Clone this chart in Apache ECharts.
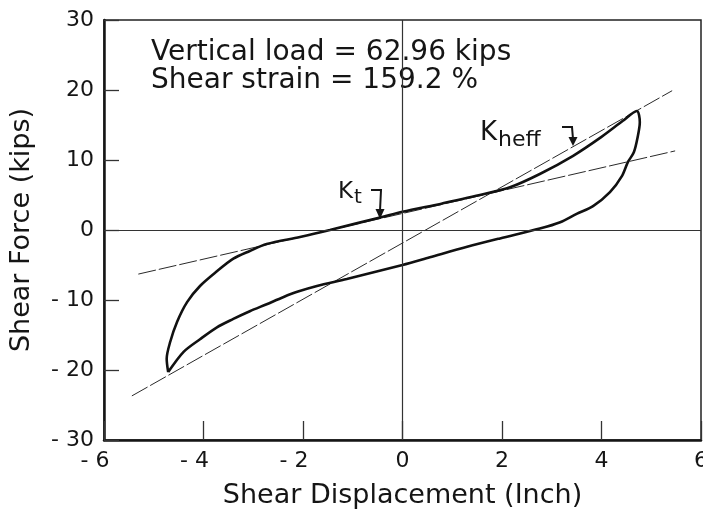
<!DOCTYPE html>
<html><head><meta charset="utf-8">
<script src="https://cdn.jsdelivr.net/npm/echarts@6/dist/echarts.min.js"></script>
<style>html,body{margin:0;padding:0;background:#fff}#c{width:703px;height:517px}</style>
</head><body><div id="c"></div>
<script>
// ---- data ----
const xTicks = [-6, -4, -2, 0, 2, 4, 6];
const yTicks = [-30, -20, -10, 0, 10, 20, 30];
// hysteresis loop, traced counter-clockwise from the lower-left tip
const loopDisp = [-4.71, -4.74, -4.67, -4.53, -4.33, -4.07, -3.73, -3.40, -3.07, -2.73, -2.06, -1.46, -0.39, 0.00, 0.80, 1.62, 2.16, 2.76, 3.43, 4.00, 4.43, 4.71,
                  4.77, 4.73, 4.65, 4.53, 4.41, 4.17, 3.83, 3.50, 3.17, 2.76, 1.96, 1.30, 0.55, 0.00, -1.12, -1.72, -2.10, -2.40, -2.73, -3.07, -3.40, -3.73, -4.07, -4.40, -4.71];
const loopForce = [-20.3, -18.4, -16.0, -13.1, -10.3, -8.0, -5.9, -4.1, -3.0, -2.0, -1.0, 0.0, 1.9, 2.6, 3.8, 5.1, 6.1, 8.0, 10.6, 13.3, 15.6, 17.0,
                   15.4, 13.4, 11.1, 9.7, 7.7, 5.4, 3.4, 2.3, 1.1, 0.2, -1.2, -2.4, -3.9, -5.0, -7.0, -8.0, -8.8, -9.6, -10.6, -11.6, -12.7, -13.9, -15.6, -17.4, -20.3];
const ktDisp = [-5.31, 5.48];
const ktForce = [-6.3, 11.3];
const kheffDisp = [-5.44, 5.42];
const kheffForce = [-23.7, 19.9];
const noteLines = ['Vertical load = 62.96 kips', 'Shear strain = 159.2 %'];
const xTitle = 'Shear Displacement (Inch)';
const yTitle = 'Shear Force (kips)';

const pairs = (xs, ys) => xs.map((x, i) => [x, ys[i]]);
const FONT = '"DejaVu Sans", sans-serif';
const INK = '#151515';

const chart = echarts.init(document.getElementById('c'), null, {renderer: 'canvas'});
const refLine = {color: '#2a2a2a', width: 1, type: [18, 3]};

chart.setOption({
  animation: false,
  backgroundColor: '#fff',
  grid: {left: 104, right: 2, top: 20, bottom: 77, outerBoundsMode: 'none', containLabel: false,
         show: true, borderColor: '#222', borderWidth: 1.5, backgroundColor: 'transparent'},
  xAxis: {
    type: 'value', min: xTicks[0], max: xTicks[xTicks.length - 1], interval: 2,
    name: xTitle, nameLocation: 'middle', nameGap: 42,
    nameTextStyle: {fontFamily: FONT, fontSize: 27, color: INK},
    axisLine: {onZero: false, lineStyle: {color: INK, width: 2.5}},
    axisTick: {inside: true, length: 19, lineStyle: {color: '#333', width: 1.3}},
    splitLine: {show: false},
    axisLabel: {
      margin: 10, fontFamily: FONT, fontSize: 22, color: INK, hideOverlap: false,
      formatter: v => v < 0 ? '{m|- }{d|' + Math.abs(v) + '}{p| }' : '{d|' + v + '}',
      rich: {
        m: {fontFamily: FONT, fontSize: 22, color: INK},
        d: {fontFamily: FONT, fontSize: 22, color: INK},
        p: {fontFamily: FONT, fontSize: 22, width: 18}
      }
    }
  },
  yAxis: {
    type: 'value', min: yTicks[0], max: yTicks[yTicks.length - 1], interval: 10,
    name: yTitle, nameLocation: 'middle', nameGap: 69, nameRotate: 90,
    nameTextStyle: {fontFamily: FONT, fontSize: 27, color: INK},
    axisLine: {onZero: false, lineStyle: {color: INK, width: 2.5}},
    axisTick: {inside: true, length: 15, lineStyle: {color: '#333', width: 1.3}},
    splitLine: {show: false},
    axisLabel: {
      margin: 10, fontFamily: FONT, fontSize: 22, color: INK, hideOverlap: false,
      formatter: v => v < 0 ? '- ' + Math.abs(v) : String(v)
    }
  },
  series: [
    {
      name: 'Kt', type: 'line', data: pairs(ktDisp, ktForce), symbol: 'none',
      lineStyle: refLine, z: 2,
      markLine: {
        silent: true, symbol: 'none', label: {show: false},
        lineStyle: {color: '#333', width: 1.2, type: 'solid'},
        data: [{xAxis: 0}, {yAxis: 0}]
      }
    },
    {name: 'Kheff', type: 'line', data: pairs(kheffDisp, kheffForce), symbol: 'none', lineStyle: refLine, z: 2},
    {
      name: 'Hysteresis loop', type: 'line', data: pairs(loopDisp, loopForce), symbol: 'none',
      smooth: 0.3, lineStyle: {color: '#111', width: 2.6}, z: 3
    }
  ],
  graphic: [
    {type: 'text', left: 151, top: 39, style: {text: noteLines[0], font: '28px ' + FONT, fill: INK}},
    {type: 'text', left: 151, top: 67, style: {text: noteLines[1], font: '28px ' + FONT, fill: INK}},
    {type: 'text', left: 338, top: 181, style: {
      text: '{k|K}{s|t}', rich: {
        k: {fontFamily: FONT, fontSize: 23, fill: INK},
        s: {fontFamily: FONT, fontSize: 20, fill: INK, padding: [10, 0, 0, 1]}
      }}},
    {type: 'text', left: 480, top: 120, style: {
      text: '{k|K}{s|heff}', rich: {
        k: {fontFamily: FONT, fontSize: 26, fill: INK},
        s: {fontFamily: FONT, fontSize: 22, fill: INK, padding: [14, 0, 0, 1]}
      }}},
    {type: 'polyline', shape: {points: [[371, 190], [381, 190], [380, 211]]}, style: {stroke: INK, lineWidth: 2, fill: null}},
    {type: 'polygon', shape: {points: [[375.5, 209], [384.5, 209], [380, 219]]}, style: {fill: INK}},
    {type: 'polyline', shape: {points: [[562, 127], [572, 127], [573, 139]]}, style: {stroke: INK, lineWidth: 2, fill: null}},
    {type: 'polygon', shape: {points: [[568.5, 137], [577.5, 137], [573, 146]]}, style: {fill: INK}}
  ]
});
</script>
</body></html>
